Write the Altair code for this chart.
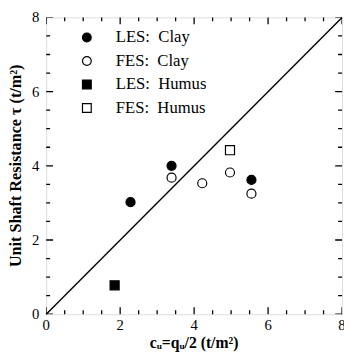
import altair as alt
import pandas as pd

# ---- data ----
series_names = ["LES:\u00a0 Clay", "FES:\u00a0 Clay", "LES:\u00a0 Humus", "FES:\u00a0 Humus"]
les_clay_x = [2.28, 3.39, 5.55]
les_clay_y = [3.02, 4.00, 3.62]
fes_clay_x = [3.39, 4.22, 4.97, 5.55]
fes_clay_y = [3.68, 3.53, 3.82, 3.25]
les_humus_x = [1.85]
les_humus_y = [0.78]
fes_humus_x = [4.97]
fes_humus_y = [4.42]
line_x = [0, 8]
line_y = [0, 8]
axis_min, axis_mid, axis_max = 0, 4, 8
major_ticks = [0, 2, 4, 6, 8]
minor_ticks = [0.5, 1, 1.5, 2.5, 3, 3.5, 4.5, 5, 5.5, 6.5, 7, 7.5]
x_title = ["c\u1d64=q\u1d64/2  (t/m\u00b2)"]
y_title = ["Unit  Shaft  Resistance  \u03c4  (t/m\u00b2)"]

rows = []
for name, xs_, ys_ in zip(series_names,
                          [les_clay_x, fes_clay_x, les_humus_x, fes_humus_x],
                          [les_clay_y, fes_clay_y, les_humus_y, fes_humus_y]):
    for a, b in zip(xs_, ys_):
        rows.append({"x": a, "y": b, "series": name})
pts = pd.DataFrame(rows)
line_df = pd.DataFrame({"x": line_x, "y": line_y})
major_df = pd.DataFrame({"v": major_ticks})

W, H = 302, 303
FONT = "Liberation Serif"
xs = alt.Scale(domain=[axis_min, axis_max], nice=False, zero=False)
ys = alt.Scale(domain=[axis_min, axis_max], nice=False, zero=False)


def X(field):
    return alt.X(field, type="quantitative", scale=xs, axis=None)


def Y(field):
    return alt.Y(field, type="quantitative", scale=ys, axis=None)


def XD(v):
    return alt.XDatum(v, type="quantitative", scale=xs, axis=None)


def YD(v):
    return alt.YDatum(v, type="quantitative", scale=ys, axis=None)


line = alt.Chart(line_df).mark_line(color="black", strokeWidth=1.4).encode(
    x=X("x"), y=Y("y"))

legend = alt.Legend(orient="none", legendX=33, legendY=12, title=None, padding=0,
                    labelFont=FONT, labelFontSize=17, labelColor="black",
                    labelOffset=21, rowPadding=6,
                    symbolStrokeWidth=1.2, symbolSize=80)

points = alt.Chart(pts).mark_point(strokeWidth=1.2, opacity=1,
                                    fillOpacity=1, size=85).encode(
    x=X("x"), y=Y("y"),
    shape=alt.Shape("series:N", scale=alt.Scale(domain=series_names,
                    range=["circle", "circle", "square", "square"]), legend=legend),
    fill=alt.Fill("series:N", scale=alt.Scale(domain=series_names,
                  range=["black", "white", "black", "white"]), legend=legend),
    stroke=alt.Stroke("series:N", scale=alt.Scale(domain=series_names,
                      range=["black", "black", "black", "black"]), legend=legend),
)


def tick_layer(values, length, along, edge):
    df = pd.DataFrame({"v": values})
    if along == "x":
        m = alt.Chart(df).mark_tick(orient="vertical", size=length, thickness=1.3,
                                    color="black", opacity=1, clip=True)
        return m.encode(x=X("v"), y=YD(edge))
    m = alt.Chart(df).mark_tick(orient="horizontal", size=length, thickness=1.3,
                                color="black", opacity=1, clip=True)
    return m.encode(y=Y("v"), x=XD(edge))


ticks = [
    tick_layer(major_ticks, 14, "x", axis_min),
    tick_layer(minor_ticks, 8, "x", axis_min),
    tick_layer(major_ticks, 14, "x", axis_max),
    tick_layer(minor_ticks, 8, "x", axis_max),
    tick_layer(major_ticks, 14, "y", axis_min),
    tick_layer(minor_ticks, 8, "y", axis_min),
    tick_layer(major_ticks, 14, "y", axis_max),
    tick_layer(minor_ticks, 8, "y", axis_max),
]

x_labels = alt.Chart(major_df).mark_text(
    font=FONT, fontSize=15, color="black", baseline="top", align="center", dy=4
).encode(x=X("v"), y=YD(axis_min), text=alt.Text("v:Q", format="d"))

y_labels = alt.Chart(major_df).mark_text(
    font=FONT, fontSize=15, color="black", baseline="middle", align="right", dx=-7
).encode(y=Y("v"), x=XD(axis_min), text=alt.Text("v:Q", format="d"))

x_title_layer = alt.Chart(pd.DataFrame({"t": x_title})).mark_text(
    font=FONT, fontSize=16, fontWeight="bold", color="black",
    baseline="middle", align="center", dy=29
).encode(x=XD(axis_mid), y=YD(axis_min), text="t:N")

y_title_layer = alt.Chart(pd.DataFrame({"t": y_title})).mark_text(
    font=FONT, fontSize=16.5, fontWeight="bold", color="black",
    baseline="middle", align="center", angle=270, dy=-31
).encode(x=XD(axis_min), y=YD(axis_mid), text="t:N")

chart = alt.layer(line, *ticks, x_labels, y_labels, x_title_layer, y_title_layer,
                  points).properties(
    width=W, height=H,
    autosize=alt.AutoSizeParams(type="none"),
    padding={"left": 39, "top": 6, "right": 2, "bottom": 36},
    background="white",
).configure_view(stroke="black", strokeWidth=1.6).configure(font=FONT)

chart.save("out.html", embed_options={"renderer": "svg", "actions": False})
